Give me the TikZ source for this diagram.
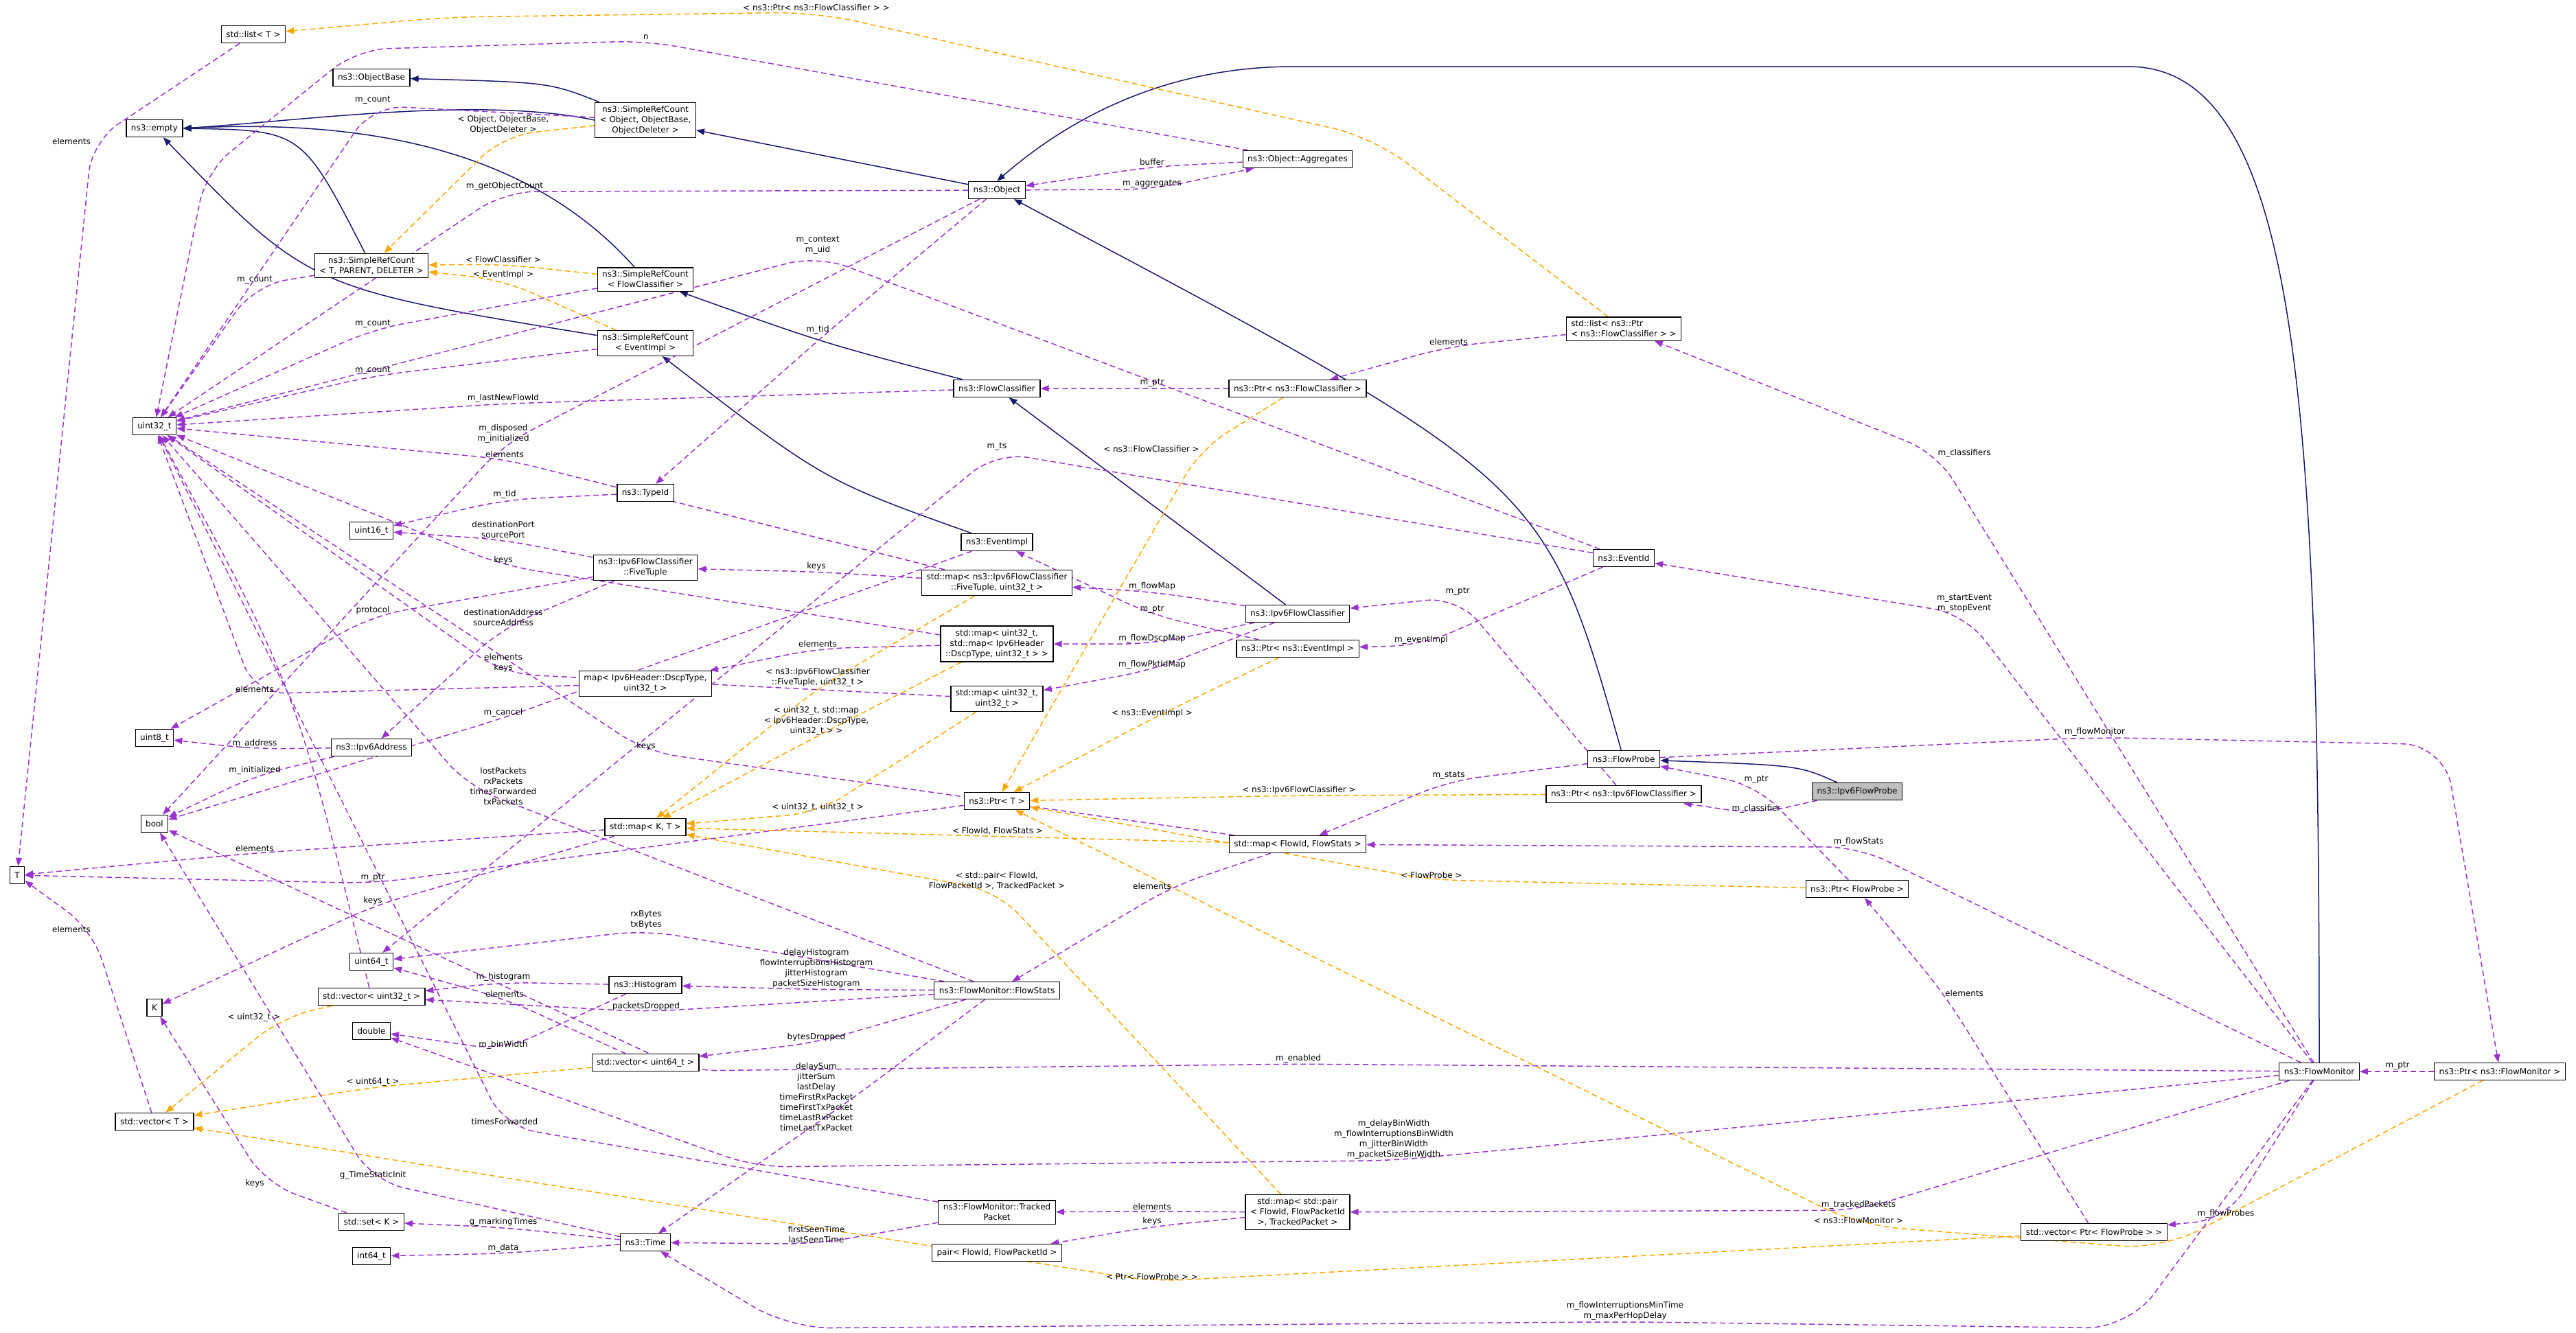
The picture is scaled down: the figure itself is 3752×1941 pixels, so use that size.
\documentclass[tikz,border=0pt]{standalone}
\usepackage{fontspec}
\setmainfont{DejaVu Sans}
\usetikzlibrary{arrows.meta,calc}
\definecolor{usec}{HTML}{9A32CD}
\definecolor{tmplc}{HTML}{FFA500}
\definecolor{inhc}{HTML}{191970}
\pgfdeclarelayer{bg}
\pgfsetlayers{bg,main}
\newcommand\ce[4]{\draw[#1,rounded corners=45pt] (#2) -- (#3) -- (#4);}
\begin{document}
\begin{tikzpicture}[x=1pt,y=-1pt,
  box/.style={draw,line width=1.3pt,fill=white,font=\fontsize{12}{15}\selectfont,align=center,inner xsep=7pt,inner ysep=5pt,minimum height=25pt},
  lbl/.style={font=\fontsize{12}{15}\selectfont,align=center,inner sep=2pt},
  use/.style={usec,dashed,dash pattern=on 8pt off 5pt,line width=1.5pt,-{Triangle[length=12pt,width=9pt]}},
  tmpl/.style={tmplc,dashed,dash pattern=on 8pt off 5pt,line width=1.5pt,-{Triangle[length=12pt,width=9pt]}},
  inh/.style={inhc,line width=1.5pt,-{Triangle[length=12pt,width=9pt]}}]
\useasboundingbox (0,0) rectangle (3752,1941);
% nodes
\node[box] (listT) at (369,50) {std::list< T >};
\node[box] (objbase) at (541,113) {ns3::ObjectBase};
\node[box] (empty) at (225,187) {ns3::empty};
\node[box] (srcOOD) at (940,175) {ns3::SimpleRefCount\\< Object, ObjectBase,\\ObjectDeleter >};
\node[box] (object) at (1452,277) {ns3::Object};
\node[box] (aggr) at (1890,232) {ns3::Object::Aggregates};
\node[box] (srcTPD) at (541,387) {ns3::SimpleRefCount\\< T, PARENT, DELETER >};
\node[box] (srcFC) at (940,407) {ns3::SimpleRefCount\\< FlowClassifier >};
\node[box] (srcEI) at (940,500) {ns3::SimpleRefCount\\< EventImpl >};
\node[box] (u32) at (225,621) {uint32\_t};
\node[box] (fc) at (1452,566) {ns3::FlowClassifier};
\node[box] (ptrfc) at (1890,566) {ns3::Ptr< ns3::FlowClassifier >};
\node[box,align=left] (listptrfc) at (2365,479) {std::list< ns3::Ptr\\< ns3::FlowClassifier > >};
\node[box] (typeid) at (940,718) {ns3::TypeId};
\node[box] (u16) at (541,773) {uint16\_t};
\node[box] (five) at (940,827) {ns3::Ipv6FlowClassifier\\::FiveTuple};
\node[box] (evimpl) at (1452,790) {ns3::EventImpl};
\node[box] (mapfive) at (1452,849) {std::map< ns3::Ipv6FlowClassifier\\::FiveTuple, uint32\_t >};
\node[box] (mapdscp2) at (1452,938) {std::map< uint32\_t,\\std::map< Ipv6Header\\::DscpType, uint32\_t > >};
\node[box] (mapu32) at (1452,1018) {std::map< uint32\_t,\\uint32\_t >};
\node[box] (mapdscp) at (940,996) {map< Ipv6Header::DscpType,\\uint32\_t >};
\node[box] (ipv6fc) at (1890,894) {ns3::Ipv6FlowClassifier};
\node[box] (ptrei) at (1890,945) {ns3::Ptr< ns3::EventImpl >};
\node[box] (eventid) at (2365,813) {ns3::EventId};
\node[box] (u8) at (225,1075) {uint8\_t};
\node[box] (ipv6addr) at (541,1089) {ns3::Ipv6Address};
\node[box] (bool) at (225,1200) {bool};
\node[box] (T) at (25,1275) {T};
\node[box] (mapKT) at (940,1205) {std::map< K, T >};
\node[box] (ptrT) at (1452,1167) {ns3::Ptr< T >};
\node[box] (mapfs) at (1890,1230) {std::map< FlowId, FlowStats >};
\node[box] (flowprobe) at (2365,1106) {ns3::FlowProbe};
\node[box] (ptripv6fc) at (2365,1157) {ns3::Ptr< ns3::Ipv6FlowClassifier >};
\node[box,fill={rgb,255:red,191;green,191;blue,191}] (ipv6fp) at (2705,1153) {ns3::Ipv6FlowProbe};
\node[box] (ptrfp) at (2705,1295) {ns3::Ptr< FlowProbe >};
\node[box] (u64) at (541,1401) {uint64\_t};
\node[box] (vecu32) at (541,1452) {std::vector< uint32\_t >};
\node[box] (K) at (225,1468) {K};
\node[box] (double) at (541,1502) {double};
\node[box] (hist) at (940,1435) {ns3::Histogram};
\node[box] (flowstats) at (1452,1443) {ns3::FlowMonitor::FlowStats};
\node[box] (vecu64) at (940,1548) {std::vector< uint64\_t >};
\node[box] (vecT) at (225,1634) {std::vector< T >};
\node[box] (flowmon) at (3378,1561) {ns3::FlowMonitor};
\node[box] (ptrfm) at (3641,1561) {ns3::Ptr< ns3::FlowMonitor >};
\node[box] (setK) at (541,1780) {std::set< K >};
\node[box] (time) at (940,1810) {ns3::Time};
\node[box] (i64) at (541,1830) {int64\_t};
\node[box] (tracked) at (1452,1766) {ns3::FlowMonitor::Tracked\\Packet};
\node[box] (pairfp) at (1452,1825) {pair< FlowId, FlowPacketId >};
\node[box] (mappair) at (1890,1766) {std::map< std::pair\\< FlowId, FlowPacketId\\>, TrackedPacket >};
\node[box] (vecptrfp) at (3050,1795) {std::vector< Ptr< FlowProbe > >};
% labels
\node[lbl] (l1) at (104,206) {elements};
\node[lbl] (l2) at (941,54) {n};
\node[lbl] (l3) at (543,146) {m\_count};
\node[lbl] (l4) at (733,182) {< Object, ObjectBase,\\ObjectDeleter >};
\node[lbl] (l5) at (735,271) {m\_getObjectCount};
\node[lbl] (l6) at (733,378) {< FlowClassifier >};
\node[lbl] (l7) at (733,400) {< EventImpl >};
\node[lbl] (l8) at (371,408) {m\_count};
\node[lbl] (l9) at (543,472) {m\_count};
\node[lbl] (l10) at (543,540) {m\_count};
\node[lbl] (l11) at (733,580) {m\_lastNewFlowId};
\node[lbl] (l12) at (733,632) {m\_disposed\\m\_initialized};
\node[lbl] (l13) at (735,662) {elements};
\node[lbl] (l14) at (1189,11) {< ns3::Ptr< ns3::FlowClassifier > >};
\node[lbl] (l15) at (1678,236) {buffer};
\node[lbl] (l16) at (1678,268) {m\_aggregates};
\node[lbl] (l17) at (1191,357) {m\_context\\m\_uid};
\node[lbl] (l18) at (1191,480) {m\_tid};
\node[lbl] (l19) at (1678,558) {m\_ptr};
\node[lbl] (l20) at (2110,498) {elements};
\node[lbl] (l21) at (2861,660) {m\_classifiers};
\node[lbl] (l22) at (735,720) {m\_tid};
\node[lbl] (l23) at (733,772) {destinationPort\\sourcePort};
\node[lbl] (l24) at (733,816) {keys};
\node[lbl] (l25) at (543,889) {protocol};
\node[lbl] (l26) at (733,900) {destinationAddress\\sourceAddress};
\node[lbl] (l27) at (733,966) {elements\\keys};
\node[lbl] (l27b) at (371,1004) {elements};
\node[lbl] (l28) at (733,1038) {m\_cancel};
\node[lbl] (l29) at (941,1087) {keys};
\node[lbl] (l30) at (371,1083) {m\_address};
\node[lbl] (l31) at (371,1122) {m\_initialized};
\node[lbl] (l32) at (733,1146) {lostPackets\\rxPackets\\timesForwarded\\txPackets};
\node[lbl] (l33) at (371,1236) {elements};
\node[lbl] (l34) at (543,1279) {m\_ptr};
\node[lbl] (l35) at (543,1312) {keys};
\node[lbl] (l36) at (941,1340) {rxBytes\\txBytes};
\node[lbl] (l37) at (104,1354) {elements};
\node[lbl] (l38) at (733,1423) {m\_histogram};
\node[lbl] (l39) at (735,1448) {elements};
\node[lbl] (l40) at (941,1466) {packetsDropped};
\node[lbl] (l41) at (370,1482) {< uint32\_t >};
\node[lbl] (l42) at (733,1522) {m\_binWidth};
\node[lbl] (l43) at (543,1576) {< uint64\_t >};
\node[lbl] (l44) at (735,1634) {timesForwarded};
\node[lbl] (l45) at (543,1712) {g\_TimeStaticInit};
\node[lbl] (l46) at (371,1724) {keys};
\node[lbl] (l47) at (733,1780) {g\_markingTimes};
\node[lbl] (l48) at (733,1818) {m\_data};
\node[lbl] (l49) at (1191,987) {< ns3::Ipv6FlowClassifier\\::FiveTuple, uint32\_t >};
\node[lbl] (l50) at (1189,1050) {< uint32\_t, std::map\\< Ipv6Header::DscpType,\\uint32\_t > >};
\node[lbl] (l51) at (1191,1176) {< uint32\_t, uint32\_t >};
\node[lbl] (l52) at (1453,1211) {< FlowId, FlowStats >};
\node[lbl] (l53) at (1452,1283) {< std::pair< FlowId,\\FlowPacketId >, TrackedPacket >};
\node[lbl] (l54) at (1452,651) {m\_ts};
\node[lbl] (l55) at (1677,654) {< ns3::FlowClassifier >};
\node[lbl] (l56) at (1189,825) {keys};
\node[lbl] (l57) at (1678,854) {m\_flowMap};
\node[lbl] (l58) at (1678,888) {m\_ptr};
\node[lbl] (l59) at (1191,938) {elements};
\node[lbl] (l60) at (1678,930) {m\_flowDscpMap};
\node[lbl] (l61) at (1678,968) {m\_flowPktIdMap};
\node[lbl] (l62) at (1678,1039) {< ns3::EventImpl >};
\node[lbl] (l63) at (1892,1151) {< ns3::Ipv6FlowClassifier >};
\node[lbl] (l64) at (1678,1291) {elements};
\node[lbl] (l65) at (2123,862) {m\_ptr};
\node[lbl] (l66) at (2070,932) {m\_eventImpl};
\node[lbl] (l67) at (2861,879) {m\_startEvent\\m\_stopEvent};
\node[lbl] (l68) at (2110,1130) {m\_stats};
\node[lbl] (l69) at (2558,1136) {m\_ptr};
\node[lbl] (l70) at (2558,1178) {m\_classifier};
\node[lbl] (l71) at (2707,1226) {m\_flowStats};
\node[lbl] (l72) at (2085,1275) {< FlowProbe >};
\node[lbl] (l73) at (2861,1447) {elements};
\node[lbl] (l74) at (1189,1411) {delayHistogram\\flowInterruptionsHistogram\\jitterHistogram\\packetSizeHistogram};
\node[lbl] (l75) at (1189,1511) {bytesDropped};
\node[lbl] (l76) at (1189,1598) {delaySum\\jitterSum\\lastDelay\\timeFirstRxPacket\\timeFirstTxPacket\\timeLastRxPacket\\timeLastTxPacket};
\node[lbl] (l77) at (1891,1542) {m\_enabled};
\node[lbl] (l78) at (2030,1660) {m\_delayBinWidth\\m\_flowInterruptionsBinWidth\\m\_jitterBinWidth\\m\_packetSizeBinWidth};
\node[lbl] (l79) at (1678,1758) {elements};
\node[lbl] (l80) at (1678,1779) {keys};
\node[lbl] (l81) at (1189,1798) {firstSeenTime\\lastSeenTime};
\node[lbl] (l82) at (1678,1860) {< Ptr< FlowProbe > >};
\node[lbl] (l83) at (2707,1755) {m\_trackedPackets};
\node[lbl] (l84) at (2707,1778) {< ns3::FlowMonitor >};
\node[lbl] (l85) at (2367,1910) {m\_flowInterruptionsMinTime\\m\_maxPerHopDelay};
\node[lbl] (l86) at (3242,1768) {m\_flowProbes};
\node[lbl] (l87) at (3051,1066) {m\_flowMonitor};
\node[lbl] (l88) at (3492,1553) {m\_ptr};
\begin{pgfonlayer}{bg}
% inheritance
\draw[inh] (srcOOD) .. controls (800,120) .. (objbase);
\draw[inh] (srcOOD.west) .. controls (700,140) and (450,175) .. (empty.east);
\draw[inh] (srcTPD) .. controls (440,190) .. (empty.east);
\draw[inh] (srcFC) .. controls (800,250) and (600,170) .. (empty.east);
\draw[inh] (srcEI) .. controls (450,420) .. (empty);
\draw[inh] (object) -- (srcOOD);
\draw[inh] (fc) .. controls (1200,500) .. (srcFC);
\draw[inh] (evimpl) .. controls (1200,700) .. (srcEI);
\draw[inh] (ipv6fc) -- (fc);
\draw[inh] (flowprobe) .. controls (2250,700) .. (object);
\draw[inh] (flowmon.north) .. controls (3378,600) and (3350,97) .. (3100,97) -- (1884,97) .. controls (1700,97) and (1560,170) .. (object.north);
\draw[inh] (ipv6fp) .. controls (2620,1115) .. (flowprobe);
% usage / template edges
\ce{use}{listT}{l1.east}{T}
\draw[use,rounded corners=45pt] (aggr) -- (l2.south) -- (520,72) -- (300,250) -- (u32);
\ce{use}{srcOOD}{l3.south}{u32}
\ce{tmpl}{srcOOD}{l4.south}{srcTPD}
\ce{use}{object}{l5.south}{u32}
\ce{tmpl}{srcFC}{l6.south}{srcTPD}
\ce{tmpl}{srcEI}{l7.south}{srcTPD}
\ce{use}{srcTPD}{l8.south}{u32}
\ce{use}{srcFC}{l9.south}{u32}
\ce{use}{srcEI}{l10.south}{u32}
\ce{use}{fc}{l11.south}{u32}
\ce{use}{object}{l12.south}{bool}
\ce{use}{mapfive}{l13.south}{u32}
\draw[tmpl,rounded corners=60pt] (listptrfc) -- (2000,200) -- (l14.south) -- (650,25) -- (listT);
\ce{use}{aggr}{l15.south}{object}
\ce{use}{object}{l16.south}{aggr}
\ce{use}{eventid}{l17.south}{u32}
\ce{use}{object}{l18.east}{typeid}
\ce{use}{ptrfc}{l19.south}{fc}
\ce{use}{listptrfc}{l20.south}{ptrfc}
\ce{use}{flowmon}{l21.west}{listptrfc}
\ce{use}{typeid}{l22.south}{u16}
\ce{use}{five}{l23.south}{u16}
\ce{use}{mapdscp2}{l24.south}{u32}
\ce{use}{five}{l25.south}{u8}
\ce{use}{five}{l26.south}{ipv6addr}
\ce{use}{mapu32}{l27.south}{u32}
\ce{use}{mapdscp}{l27b.south}{u32}
\draw[use] (vecu32) .. controls (430,1000) .. (u32);
\ce{use}{evimpl}{l28.south}{bool}
\ce{use}{mapfs}{l29.south}{u32}
\ce{use}{ipv6addr}{l30.south}{u8}
\ce{use}{ipv6addr}{l31.south}{bool}
\ce{use}{flowstats}{l32.west}{u32}
\ce{use}{mapKT}{l33.south}{T}
\ce{use}{ptrT}{l34.south}{T}
\ce{use}{mapKT}{l35.south}{K}
\ce{use}{flowstats}{l36.south}{u64}
\ce{use}{vecT}{l37.east}{T}
\ce{use}{hist}{l38.south}{vecu32}
\ce{use}{vecu64}{l39.south}{u64}
\ce{use}{flowstats}{l40.south}{vecu32}
\ce{tmpl}{vecu32}{l41.east}{vecT}
\ce{use}{hist}{l42.south}{double}
\ce{tmpl}{vecu64}{l43.south}{vecT}
\ce{use}{tracked}{l44.south}{u32}
\ce{use}{time}{l45.south}{bool}
\ce{use}{setK}{l46.east}{K}
\ce{use}{time}{l47.south}{setK}
\ce{use}{time}{l48.south}{i64}
\ce{tmpl}{mapfive}{l49.south}{mapKT}
\ce{tmpl}{mapdscp2}{l50.south}{mapKT}
\ce{tmpl}{mapu32}{l51.south}{mapKT}
\ce{tmpl}{mapfs}{l52.south}{mapKT}
\ce{tmpl}{mappair}{l53.south}{mapKT}
\ce{use}{eventid}{l54.south}{u64}
\ce{tmpl}{ptrfc}{l55.east}{ptrT}
\ce{use}{mapfive}{l56.south}{five}
\ce{use}{ipv6fc}{l57.south}{mapfive}
\ce{use}{ptrei}{l58.south}{evimpl}
\ce{use}{mapdscp2}{l59.south}{mapdscp}
\ce{use}{ipv6fc}{l60.south}{mapdscp2}
\ce{use}{ipv6fc}{l61.south}{mapu32}
\ce{tmpl}{ptrei}{l62.south}{ptrT}
\ce{tmpl}{ptripv6fc}{l63.south}{ptrT}
\ce{use}{mapfs}{l64.east}{flowstats}
\ce{use}{ptripv6fc}{l65.south}{ipv6fc}
\ce{use}{eventid}{l66.south}{ptrei}
\ce{use}{flowmon}{l67.south}{eventid}
\ce{use}{flowprobe}{l68.south}{mapfs}
\ce{use}{ptrfp}{l69.south}{flowprobe}
\ce{use}{ipv6fp}{l70.south}{ptripv6fc}
\ce{use}{flowmon}{l71.south}{mapfs}
\ce{tmpl}{ptrfp}{l72.south}{ptrT}
\ce{use}{vecptrfp}{l73.west}{ptrfp}
\ce{use}{flowstats}{l74.south}{hist}
\ce{use}{flowstats}{l75.south}{vecu64}
\ce{use}{flowstats}{l76.east}{time}
\draw[use,rounded corners=45pt] (flowmon) -- (l77.south) -- (1000,1560) -- (bool);
\draw[use,rounded corners=45pt] (flowmon) -- (l78.south) -- (1100,1700) -- (double);
\ce{use}{mappair}{l79.south}{tracked}
\ce{use}{mappair}{l80.south}{pairfp}
\ce{use}{tracked}{l81.south}{time}
\ce{tmpl}{vecptrfp}{l82.south}{vecT}
\ce{use}{flowmon}{l83.south}{mappair}
\draw[tmpl,rounded corners=60pt] (ptrfm) -- (3150,1820) -- (l84.south) -- (ptrT);
\draw[use,rounded corners=60pt] (flowmon) -- (3100,1935) -- (l85.south) -- (1150,1935) -- (time);
\ce{use}{flowmon}{l86.south}{vecptrfp}
\draw[use,rounded corners=60pt] (flowprobe) -- (l87.south) -- (3560,1085) -- (ptrfm);
\draw[use] (ptrfm) -- (flowmon);
\end{pgfonlayer}
\end{tikzpicture}
\end{document}
